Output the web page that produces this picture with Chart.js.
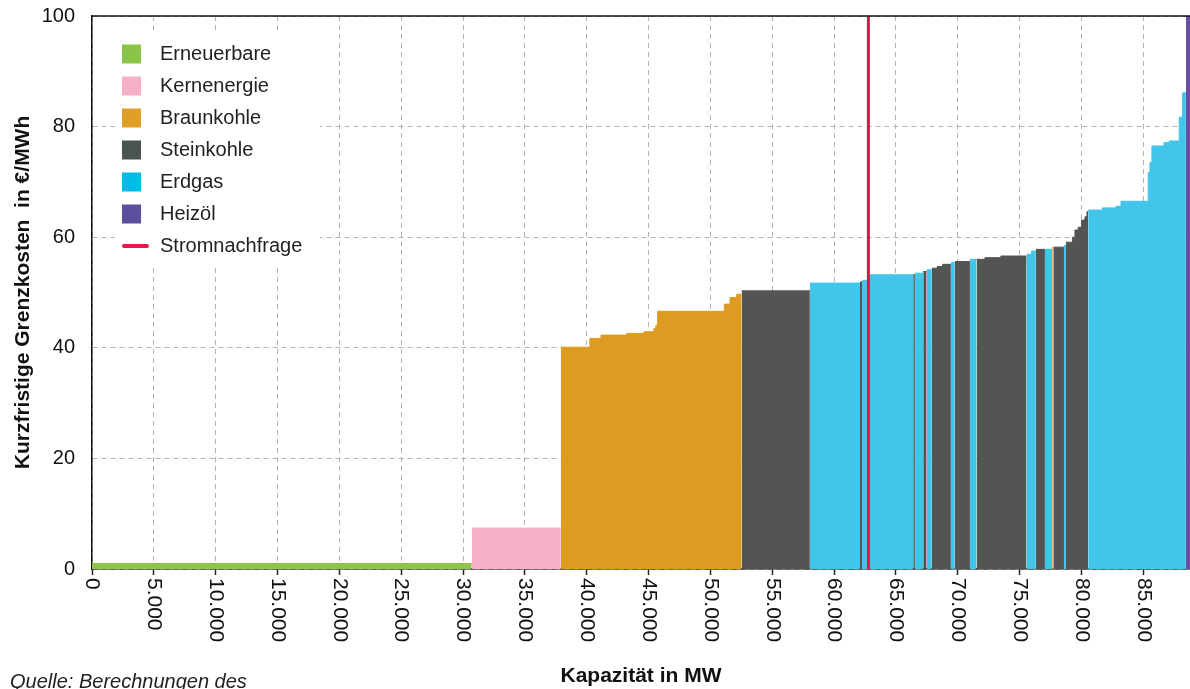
<!DOCTYPE html>
<html lang="de">
<head>
<meta charset="utf-8">
<title>Merit-Order</title>
<script src="https://cdn.jsdelivr.net/npm/chart.js@4.4.1/dist/chart.umd.min.js"></script>
<style>
  html, body { margin: 0; padding: 0; background: #fff; }
  #wrap { position: relative; width: 1190px; height: 689px; }
</style>
</head>
<body>
<div id="wrap"><canvas id="chart"></canvas></div>
<script>
// Kraftwerkstypen
const fuels = ['Erneuerbare', 'Kernenergie', 'Braunkohle', 'Steinkohle', 'Erdgas', 'Heizöl'];
const fuelColors = ['#8cc54a', '#f5afc6', '#de9b21', '#535553', '#42c5ea', '#6a4fa3'];
const legendColors = ['#88c548', '#f6afc4', '#e0a027', '#4a5550', '#00bce6', '#5d4f9f'];

// Merit-Order: Blockende (kumulierte Kapazität in MW), Grenzkosten (€/MWh), Typ (Index in fuels)
const stepEnd = [
  30700, 37900,
  40250, 41150, 43230, 44620, 45430, 45590, 45730, 51120, 51580, 52120, 52520,
  58040, 62090, 62250, 62770, 66390, 66530, 67200, 67480, 67900,
  68330, 68770, 69440, 69760, 70980, 71520, 72190, 73480, 75560,
  75960, 76310, 77040, 77630, 77770, 78580, 78740,
  79280, 79470, 79730, 80010, 80280, 80440, 80540,
  81680, 82780, 83190, 85390, 85530, 85690, 86660, 87090, 87900, 88170, 88440,
  89000
];
const stepCost = [
  1.0, 7.4,
  40.1, 41.7, 42.3, 42.6, 42.9, 43.5, 44.1, 46.6, 47.9, 49.1, 49.7,
  50.3, 51.7, 51.9, 52.2, 53.2, 53.2, 53.5, 53.8, 54.1,
  54.4, 54.7, 55.1, 55.4, 55.6, 56.0, 56.0, 56.3, 56.6,
  56.9, 57.5, 57.8, 57.8, 58.2, 58.2, 58.5,
  59.1, 60.0, 61.3, 61.8, 63.1, 63.7, 64.6,
  64.9, 65.3, 65.6, 66.5, 71.7, 73.5, 76.5, 77.1, 77.4, 81.7, 86.1,
  120
];
const stepFuel = [
  0, 1,
  2, 2, 2, 2, 2, 2, 2, 2, 2, 2, 2,
  3, 4, 3, 4, 4, 3, 4, 3, 4,
  3, 3, 3, 4, 3, 4, 3, 3, 3,
  4, 4, 3, 4, 2, 3, 4,
  3, 3, 3, 3, 3, 3, 3,
  4, 4, 4, 4, 4, 4, 4, 4, 4, 4, 4,
  5
];

const demandMW = 62770;
const demandLabel = 'Stromnachfrage';
const xTicks = [0, 5000, 10000, 15000, 20000, 25000, 30000, 35000, 40000, 45000, 50000, 55000, 60000, 65000, 70000, 75000, 80000, 85000];
const xTickLabels = ['0', '5.000', '10.000', '15.000', '20.000', '25.000', '30.000', '35.000', '40.000', '45.000', '50.000', '55.000', '60.000', '65.000', '70.000', '75.000', '80.000', '85.000'];
const yTicks = [0, 20, 40, 60, 80, 100];
const xMax = 88770;

const FONT = "'Liberation Sans', Arial, sans-serif";
Chart.defaults.font.family = FONT;
Chart.defaults.color = '#111';

// ein Datensatz je zusammenhängendem Block gleichen Typs
const datasets = [{
  label: demandLabel,
  data: [{ x: demandMW, y: 0 }, { x: demandMW, y: 100 }],
  borderColor: '#e2134c', borderWidth: 3, pointRadius: 0, fill: false
}];
let start = 0, cur = null;
stepEnd.forEach((end, i) => {
  const f = stepFuel[i];
  if (!cur || cur.fuelIdx !== f) {
    cur = {
      fuelIdx: f, label: fuels[f], data: [],
      backgroundColor: fuelColors[f], borderColor: fuelColors[f],
      borderWidth: 1, pointRadius: 0, fill: 'origin'
    };
    datasets.push(cur);
  }
  cur.data.push({ x: start, y: stepCost[i] }, { x: end, y: stepCost[i] });
  start = end;
});

const extras = {
  id: 'extras',
  beforeDatasetsDraw(chart) {
    const { ctx, chartArea } = chart;
    ctx.save();
    // Legendenkasten
    ctx.fillStyle = '#fff';
    ctx.fillRect(chartArea.left + 23, chartArea.top + 17, 205, 232);
    ctx.font = '20px ' + FONT;
    ctx.textBaseline = 'middle';
    ctx.textAlign = 'left';
    fuels.forEach((name, i) => {
      const cy = chartArea.top + 38 + i * 32;
      ctx.fillStyle = legendColors[i];
      ctx.fillRect(chartArea.left + 30, cy - 9.5, 19, 19);
      ctx.fillStyle = '#222';
      ctx.fillText(name, chartArea.left + 68, cy);
    });
    const cy = chartArea.top + 38 + fuels.length * 32;
    ctx.strokeStyle = '#e8174d';
    ctx.lineWidth = 4;
    ctx.lineCap = 'round';
    ctx.beginPath();
    ctx.moveTo(chartArea.left + 32, cy);
    ctx.lineTo(chartArea.left + 55, cy);
    ctx.stroke();
    ctx.fillStyle = '#222';
    ctx.fillText(demandLabel, chartArea.left + 68, cy);
    ctx.restore();
  },
  afterDraw(chart) {
    const { ctx, chartArea } = chart;
    const xs = chart.scales.x;
    ctx.save();
    // obere Rahmenlinie
    ctx.strokeStyle = '#111';
    ctx.lineWidth = 1.5;
    ctx.beginPath();
    ctx.moveTo(chartArea.left, chartArea.top);
    ctx.lineTo(chartArea.right, chartArea.top);
    ctx.stroke();
    // senkrechte x-Beschriftung
    ctx.fillStyle = '#111';
    ctx.font = '21px ' + FONT;
    ctx.textAlign = 'left';
    ctx.textBaseline = 'middle';
    xTicks.forEach((v, i) => {
      const px = xs.getPixelForValue(v);
      ctx.save();
      ctx.translate(px, chartArea.bottom + 9);
      ctx.rotate(Math.PI / 2);
      ctx.fillText(xTickLabels[i], 0, 0);
      ctx.restore();
    });
    // Quelle
    ctx.font = 'italic 20px ' + FONT;
    ctx.fillStyle = '#222';
    ctx.fillText('Quelle: Berechnungen des', 10, 682);
    ctx.restore();
  }
};

new Chart(document.getElementById('chart'), {
  type: 'line',
  data: { datasets },
  plugins: [extras],
  options: {
    responsive: true,
    maintainAspectRatio: false,
    animation: false,
    layout: { padding: { top: 16, right: 0, left: 0, bottom: 0 } },
    plugins: { legend: { display: false }, tooltip: { enabled: false } },
    elements: { line: { tension: 0 } },
    scales: {
      x: {
        type: 'linear', min: 0, max: xMax,
        afterBuildTicks: s => { s.ticks = xTicks.map(v => ({ value: v })); },
        afterFit: s => { s.height = 120; s.paddingLeft = 0; s.paddingRight = 0; s.paddingTop = 0; s.paddingBottom = 0; },
        ticks: { display: false },
        grid: { color: '#b3b3b3', lineWidth: 1, drawTicks: true, tickLength: 6, tickColor: '#222', tickWidth: 1.5, tickBorderDash: [] },
        border: { display: true, color: '#111', width: 1.5, dash: [5, 4] },
        title: { display: true, text: 'Kapazität in MW', color: '#111', font: { size: 21, weight: 'bold' }, padding: { top: 0, bottom: 0 } }
      },
      y: {
        min: 0, max: 100,
        afterBuildTicks: s => { s.ticks = yTicks.map(v => ({ value: v })); },
        afterFit: s => { s.width = 92; s.paddingTop = 0; s.paddingBottom = 0; s.paddingLeft = 0; s.paddingRight = 0; },
        ticks: { font: { size: 20 }, color: '#111', padding: 17 },
        grid: { color: '#b3b3b3', lineWidth: 1, drawTicks: false },
        border: { display: true, color: '#111', width: 1.5, dash: [5, 4] },
        title: { display: true, text: 'Kurzfristige Grenzkosten  in €/MWh', color: '#111', font: { size: 21, weight: 'bold' }, padding: { top: 11, bottom: 0 } }
      }
    }
  }
});
</script>
</body>
</html>
